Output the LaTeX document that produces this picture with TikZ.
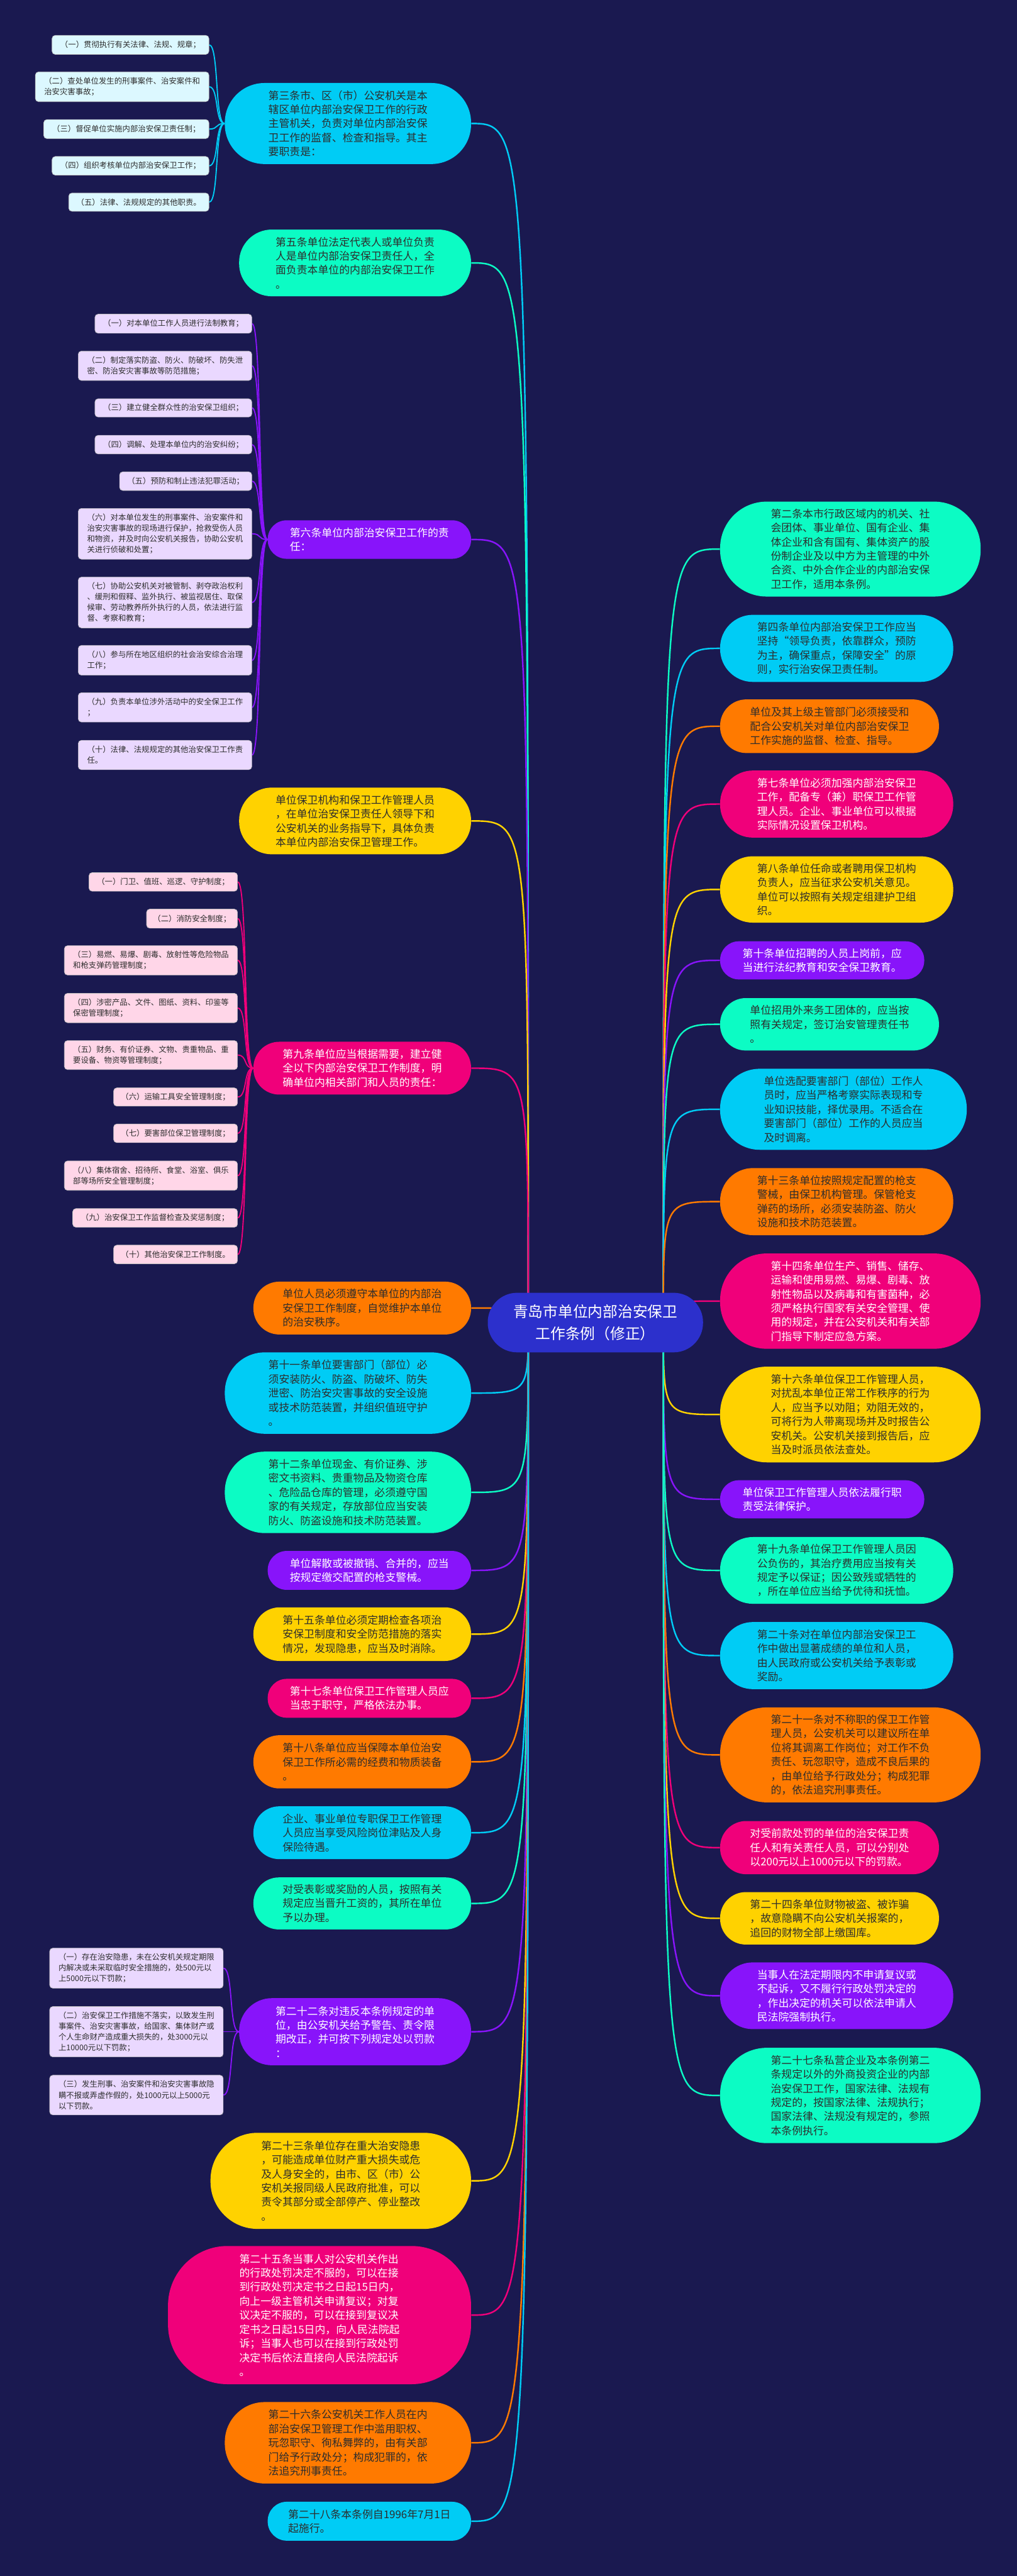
\documentclass[tikz,border=0pt]{standalone}
\usepackage{fontspec}
\setmainfont{Noto Sans CJK SC}
\usetikzlibrary{calc}
\pgfdeclarelayer{bg}\pgfdeclarelayer{lines}
\pgfsetlayers{bg,lines,main}
\definecolor{bgc}{RGB}{26,25,80}
\definecolor{ccyan}{RGB}{0,204,245}
\definecolor{cgreen}{RGB}{12,252,196}
\definecolor{corange}{RGB}{255,122,0}
\definecolor{cpink}{RGB}{240,0,122}
\definecolor{cyellow}{RGB}{255,210,0}
\definecolor{cpurple}{RGB}{136,20,250}
\definecolor{ccenter}{RGB}{44,48,204}
\definecolor{lcyan}{RGB}{220,248,255}
\definecolor{llav}{RGB}{234,216,255}
\definecolor{lpink}{RGB}{255,214,232}
\definecolor{dtext}{RGB}{45,45,45}
\tikzset{
  mainbox/.style={draw=none, align=left, inner sep=0pt, font=\fontsize{7.6}{10.1}\selectfont},
  subbox/.style={draw=black!25, line width=0.3pt, align=left, inner sep=0pt, rounded corners=0.08cm, text=dtext, font=\fontsize{5.58}{7.7}\selectfont},
  centerbox/.style={fill=ccenter, text=white, align=center, inner sep=0pt, font=\fontsize{10.7}{16}\selectfont},
  mainline/.style={line width=1.1pt},
  subline/.style={line width=0.85pt}
}
\newcommand\mnode[8]{%
  \pgfmathsetmacro\mw{(#4-#2)/100}%
  \pgfmathsetmacro\mh{(#5-#3)/100}%
  \pgfmathsetmacro\mr{min(0.49*\mh,1.5)}%
  \pgfmathsetmacro\mx{(#2+#4)/200}%
  \pgfmathsetmacro\my{-(#3+#5)/200}%
  \node[mainbox, fill=#6, text=#7, minimum width=\mw cm, minimum height=\mh cm, rounded corners=\mr cm] (#1) at (\mx,\my) {#8};}
\newcommand\snode[7]{%
  \pgfmathsetmacro\mw{(#4-#2)/100}%
  \pgfmathsetmacro\mh{(#5-#3)/100}%
  \pgfmathsetmacro\mx{(#2+#4)/200}%
  \pgfmathsetmacro\my{-(#3+#5)/200}%
  \node[subbox, fill=#6, minimum width=\mw cm, minimum height=\mh cm] (#1) at (\mx,\my) {#7};}
\newcommand\lconn[2]{\draw[mainline,#1] let \p1=(LS), \p2=(#2.east) in (\p1) .. controls (\x1,\y2) .. (\p2);}
\newcommand\rconn[2]{\draw[mainline,#1] let \p1=(RS), \p2=(#2.west) in (\p1) .. controls (\x1,\y2) .. (\p2);}
\newcommand\bconn[3]{\draw[subline,#1] (#2.west) .. controls +(-0.25,0) and +(0.25,0) .. (#3.east);}
\begin{document}
\begin{tikzpicture}
\useasboundingbox (0,0) rectangle (25.6,-64.86);
\begin{pgfonlayer}{bg}
\fill[bgc] (0,0) rectangle (25.6,-64.86);
\end{pgfonlayer}
% centre
\node[centerbox, minimum width=5.42cm, minimum height=1.5cm, rounded corners=0.74cm] (C) at (14.99,-33.30) {青岛市单位内部治安保卫\\工作条例（修正）};
\coordinate (LS) at (13.3,-33.3);
\coordinate (RS) at (16.7,-33.3);
% left main nodes
\mnode{L1}{566}{209}{1186}{413}{ccyan}{dtext}{第三条市、区（市）公安机关是本\\辖区单位内部治安保卫工作的行政\\主管机关，负责对单位内部治安保\\卫工作的监督、检查和指导。其主\\要职责是：}
\mnode{L2}{602}{578}{1186}{746}{cgreen}{dtext}{第五条单位法定代表人或单位负责\\人是单位内部治安保卫责任人，全\\面负责本单位的内部治安保卫工作\\。}
\mnode{L3}{674}{1310}{1186}{1407}{cpurple}{white}{第六条单位内部治安保卫工作的责\\任：}
\mnode{L4}{602}{1983}{1186}{2151}{cyellow}{dtext}{单位保卫机构和保卫工作管理人员\\，在单位治安保卫责任人领导下和\\公安机关的业务指导下，具体负责\\本单位内部治安保卫管理工作。}
\mnode{L5}{638}{2623}{1186}{2756}{cpink}{white}{第九条单位应当根据需要，建立健\\全以下内部治安保卫工作制度，明\\确单位内相关部门和人员的责任：}
\mnode{L6}{638}{3227}{1186}{3360}{corange}{dtext}{单位人员必须遵守本单位的内部治\\安保卫工作制度，自觉维护本单位\\的治安秩序。}
\mnode{L7}{566}{3405}{1186}{3610}{ccyan}{dtext}{第十一条单位要害部门（部位）必\\须安装防火、防盗、防破坏、防失\\泄密、防治安灾害事故的安全设施\\或技术防范装置，并组织值班守护\\。}
\mnode{L8}{566}{3655}{1186}{3860}{cgreen}{dtext}{第十二条单位现金、有价证券、涉\\密文书资料、贵重物品及物资仓库\\、危险品仓库的管理，必须遵守国\\家的有关规定，存放部位应当安装\\防火、防盗设施和技术防范装置。}
\mnode{L9}{674}{3905}{1186}{4003}{cpurple}{white}{单位解散或被撤销、合并的，应当\\按规定缴交配置的枪支警械。}
\mnode{L10}{638}{4047}{1186}{4182}{cyellow}{dtext}{第十五条单位必须定期检查各项治\\安保卫制度和安全防范措施的落实\\情况，发现隐患，应当及时消除。}
\mnode{L11}{674}{4227}{1186}{4325}{cpink}{white}{第十七条单位保卫工作管理人员应\\当忠于职守，严格依法办事。}
\mnode{L12}{638}{4369}{1186}{4503}{corange}{dtext}{第十八条单位应当保障本单位治安\\保卫工作所必需的经费和物质装备\\。}
\mnode{L13}{638}{4548}{1186}{4681}{ccyan}{dtext}{企业、事业单位专职保卫工作管理\\人员应当享受风险岗位津贴及人身\\保险待遇。}
\mnode{L14}{638}{4727}{1186}{4858}{cgreen}{dtext}{对受表彰或奖励的人员，按照有关\\规定应当晋升工资的，其所在单位\\予以办理。}
\mnode{L15}{602}{5031}{1186}{5200}{cpurple}{white}{第二十二条对违反本条例规定的单\\位，由公安机关给予警告、责令限\\期改正，并可按下列规定处以罚款\\：}
\mnode{L16}{530}{5370}{1186}{5612}{cyellow}{dtext}{第二十三条单位存在重大治安隐患\\，可能造成单位财产重大损失或危\\及人身安全的，由市、区（市）公\\安机关报同级人民政府批准，可以\\责令其部分或全部停产、停业整改\\。}
\mnode{L17}{423}{5655}{1186}{6003}{cpink}{white}{第二十五条当事人对公安机关作出\\的行政处罚决定不服的，可以在接\\到行政处罚决定书之日起15日内，\\向上一级主管机关申请复议；对复\\议决定不服的，可以在接到复议决\\定书之日起15日内，向人民法院起\\诉；当事人也可以在接到行政处罚\\决定书后依法直接向人民法院起诉\\。}
\mnode{L18}{566}{6048}{1186}{6253}{corange}{dtext}{第二十六条公安机关工作人员在内\\部治安保卫管理工作中滥用职权、\\玩忽职守、徇私舞弊的，由有关部\\门给予行政处分；构成犯罪的，依\\法追究刑事责任。}
\mnode{L19}{674}{6299}{1186}{6397}{ccyan}{dtext}{第二十八条本条例自1996年7月1日\\起施行。}
% right main nodes
\mnode{R1}{1813}{1263}{2469}{1502}{cgreen}{dtext}{第二条本市行政区域内的机关、社\\会团体、事业单位、国有企业、集\\体企业和含有国有、集体资产的股\\份制企业及以中方为主管理的中外\\合资、中外合作企业的内部治安保\\卫工作，适用本条例。}
\mnode{R2}{1813}{1548}{2400}{1717}{ccyan}{dtext}{第四条单位内部治安保卫工作应当\\坚持“领导负责，依靠群众，预防\\为主，确保重点，保障安全”的原\\则，实行治安保卫责任制。}
\mnode{R3}{1813}{1761}{2364}{1896}{corange}{dtext}{单位及其上级主管部门必须接受和\\配合公安机关对单位内部治安保卫\\工作实施的监督、检查、指导。}
\mnode{R4}{1813}{1940}{2400}{2109}{cpink}{white}{第七条单位必须加强内部治安保卫\\工作，配备专（兼）职保卫工作管\\理人员。企业、事业单位可以根据\\实际情况设置保卫机构。}
\mnode{R5}{1813}{2156}{2400}{2323}{cyellow}{dtext}{第八条单位任命或者聘用保卫机构\\负责人，应当征求公安机关意见。\\单位可以按照有关规定组建护卫组\\织。}
\mnode{R6}{1813}{2370}{2327}{2466}{cpurple}{white}{第十条单位招聘的人员上岗前，应\\当进行法纪教育和安全保卫教育。}
\mnode{R7}{1813}{2513}{2364}{2645}{cgreen}{dtext}{单位招用外来务工团体的，应当按\\照有关规定，签订治安管理责任书\\。}
\mnode{R8}{1813}{2691}{2434}{2895}{ccyan}{dtext}{单位选配要害部门（部位）工作人\\员时，应当严格考察实际表现和专\\业知识技能，择优录用。不适合在\\要害部门（部位）工作的人员应当\\及时调离。}
\mnode{R9}{1813}{2941}{2400}{3110}{corange}{dtext}{第十三条单位按照规定配置的枪支\\警械，由保卫机构管理。保管枪支\\弹药的场所，必须安装防盗、防火\\设施和技术防范装置。}
\mnode{R10}{1813}{3156}{2469}{3396}{cpink}{white}{第十四条单位生产、销售、储存、\\运输和使用易燃、易爆、剧毒、放\\射性物品以及病毒和有害菌种，必\\须严格执行国家有关安全管理、使\\用的规定，并在公安机关和有关部\\门指导下制定应急方案。}
\mnode{R11}{1813}{3441}{2469}{3682}{cyellow}{dtext}{第十六条单位保卫工作管理人员，\\对扰乱本单位正常工作秩序的行为\\人，应当予以劝阻；劝阻无效的，\\可将行为人带离现场并及时报告公\\安机关。公安机关接到报告后，应\\当及时派员依法查处。}
\mnode{R12}{1813}{3727}{2327}{3823}{cpurple}{white}{单位保卫工作管理人员依法履行职\\责受法律保护。}
\mnode{R13}{1813}{3870}{2400}{4038}{cgreen}{dtext}{第十九条单位保卫工作管理人员因\\公负伤的，其治疗费用应当按有关\\规定予以保证；因公致残或牺牲的\\，所在单位应当给予优待和抚恤。}
\mnode{R14}{1813}{4084}{2400}{4253}{ccyan}{dtext}{第二十条对在单位内部治安保卫工\\作中做出显著成绩的单位和人员，\\由人民政府或公安机关给予表彰或\\奖励。}
\mnode{R15}{1813}{4299}{2469}{4538}{corange}{dtext}{第二十一条对不称职的保卫工作管\\理人员，公安机关可以建议所在单\\位将其调离工作岗位；对工作不负\\责任、玩忽职守，造成不良后果的\\，由单位给予行政处分；构成犯罪\\的，依法追究刑事责任。}
\mnode{R16}{1813}{4585}{2364}{4719}{cpink}{white}{对受前款处罚的单位的治安保卫责\\任人和有关责任人员，可以分别处\\以200元以上1000元以下的罚款。}
\mnode{R17}{1813}{4764}{2364}{4896}{cyellow}{dtext}{第二十四条单位财物被盗、被诈骗\\，故意隐瞒不向公安机关报案的，\\追回的财物全部上缴国库。}
\mnode{R18}{1813}{4941}{2400}{5109}{cpurple}{white}{当事人在法定期限内不申请复议或\\不起诉，又不履行行政处罚决定的\\，作出决定的机关可以依法申请人\\民法院强制执行。}
\mnode{R19}{1813}{5156}{2469}{5396}{cgreen}{dtext}{第二十七条私营企业及本条例第二\\条规定以外的外商投资企业的内部\\治安保卫工作，国家法律、法规有\\规定的，按国家法律、法规执行；\\国家法律、法规没有规定的，参照\\本条例执行。}
% children of L1
\snode{A1}{131}{89}{526}{137}{lcyan}{（一）贯彻执行有关法律、法规、规章；}
\snode{A2}{89}{181}{526}{256}{lcyan}{（二）查处单位发生的刑事案件、治安案件和\\治安灾害事故；}
\snode{A3}{110}{301}{526}{349}{lcyan}{（三）督促单位实施内部治安保卫责任制；}
\snode{A4}{131}{394}{526}{441}{lcyan}{（四）组织考核单位内部治安保卫工作；}
\snode{A5}{173}{486}{526}{532}{lcyan}{（五）法律、法规规定的其他职责。}
% children of L3
\snode{B1}{239}{791}{634}{839}{llav}{（一）对本单位工作人员进行法制教育；}
\snode{B2}{197}{884}{634}{958}{llav}{（二）制定落实防盗、防火、防破坏、防失泄\\密、防治安灾害事故等防范措施；}
\snode{B3}{239}{1004}{634}{1050}{llav}{（三）建立健全群众性的治安保卫组织；}
\snode{B4}{239}{1096}{634}{1143}{llav}{（四）调解、处理本单位内的治安纠纷；}
\snode{B5}{301}{1188}{634}{1235}{llav}{（五）预防和制止违法犯罪活动；}
\snode{B6}{197}{1280}{634}{1408}{llav}{（六）对本单位发生的刑事案件、治安案件和\\治安灾害事故的现场进行保护，抢救受伤人员\\和物资，并及时向公安机关报告，协助公安机\\关进行侦破和处置；}
\snode{B7}{197}{1453}{634}{1581}{llav}{（七）协助公安机关对被管制、剥夺政治权利\\、缓刑和假释、监外执行、被监视居住、取保\\候审、劳动教养所外执行的人员，依法进行监\\督、考察和教育；}
\snode{B8}{197}{1625}{634}{1700}{llav}{（八）参与所在地区组织的社会治安综合治理\\工作；}
\snode{B9}{197}{1744}{634}{1818}{llav}{（九）负责本单位涉外活动中的安全保卫工作\\；}
\snode{B10}{197}{1864}{634}{1938}{llav}{（十）法律、法规规定的其他治安保卫工作责\\任。}
% children of L5
\snode{C1}{224}{2197}{598}{2244}{lpink}{（一）门卫、值班、巡逻、守护制度；}
\snode{C2}{369}{2289}{598}{2337}{lpink}{（二）消防安全制度；}
\snode{C3}{162}{2381}{598}{2455}{lpink}{（三）易燃、易爆、剧毒、放射性等危险物品\\和枪支弹药管理制度；}
\snode{C4}{162}{2501}{598}{2575}{lpink}{（四）涉密产品、文件、图纸、资料、印鉴等\\保密管理制度；}
\snode{C5}{162}{2620}{598}{2693}{lpink}{（五）财务、有价证券、文物、贵重物品、重\\要设备、物资等管理制度；}
\snode{C6}{286}{2739}{598}{2785}{lpink}{（六）运输工具安全管理制度；}
\snode{C7}{286}{2830}{598}{2877}{lpink}{（七）要害部位保卫管理制度；}
\snode{C8}{162}{2923}{598}{2997}{lpink}{（八）集体宿舍、招待所、食堂、浴室、俱乐\\部等场所安全管理制度；}
\snode{C9}{183}{3043}{598}{3090}{lpink}{（九）治安保卫工作监督检查及奖惩制度；}
\snode{C10}{286}{3135}{598}{3182}{lpink}{（十）其他治安保卫工作制度。}
% children of L15
\snode{D1}{125}{4905}{562}{5006}{llav}{（一）存在治安隐患，未在公安机关规定期限\\内解决或未采取临时安全措施的，处500元以\\上5000元以下罚款；}
\snode{D2}{125}{5052}{562}{5179}{llav}{（二）治安保卫工作措施不落实，以致发生刑\\事案件、治安灾害事故，给国家、集体财产或\\个人生命财产造成重大损失的，处3000元以\\上10000元以下罚款；}
\snode{D3}{125}{5225}{562}{5325}{llav}{（三）发生刑事、治安案件和治安灾害事故隐\\瞒不报或弄虚作假的，处1000元以上5000元\\以下罚款。}
% connectors
\begin{pgfonlayer}{lines}
\lconn{ccyan}{L1}\lconn{cgreen}{L2}\lconn{cpurple}{L3}\lconn{cyellow}{L4}
\lconn{cpink}{L5}\lconn{corange}{L6}\lconn{ccyan}{L7}\lconn{cgreen}{L8}
\lconn{cpurple}{L9}\lconn{cyellow}{L10}\lconn{cpink}{L11}\lconn{corange}{L12}
\lconn{ccyan}{L13}\lconn{cgreen}{L14}\lconn{cpurple}{L15}\lconn{cyellow}{L16}
\lconn{cpink}{L17}\lconn{corange}{L18}\lconn{ccyan}{L19}
\rconn{cgreen}{R1}\rconn{ccyan}{R2}\rconn{corange}{R3}\rconn{cpink}{R4}
\rconn{cyellow}{R5}\rconn{cpurple}{R6}\rconn{cgreen}{R7}\rconn{ccyan}{R8}
\rconn{corange}{R9}\rconn{cpink}{R10}\rconn{cyellow}{R11}\rconn{cpurple}{R12}
\rconn{cgreen}{R13}\rconn{ccyan}{R14}\rconn{corange}{R15}\rconn{cpink}{R16}
\rconn{cyellow}{R17}\rconn{cpurple}{R18}\rconn{cgreen}{R19}
\foreach \c in {A1,A2,A3,A4,A5} {\bconn{ccyan}{L1}{\c}}
\foreach \c in {B1,B2,B3,B4,B5,B6,B7,B8,B9,B10} {\bconn{cpurple}{L3}{\c}}
\foreach \c in {C1,C2,C3,C4,C5,C6,C7,C8,C9,C10} {\bconn{cpink}{L5}{\c}}
\foreach \c in {D1,D2,D3} {\bconn{cpurple}{L15}{\c}}
\end{pgfonlayer}
\end{tikzpicture}
\end{document}
